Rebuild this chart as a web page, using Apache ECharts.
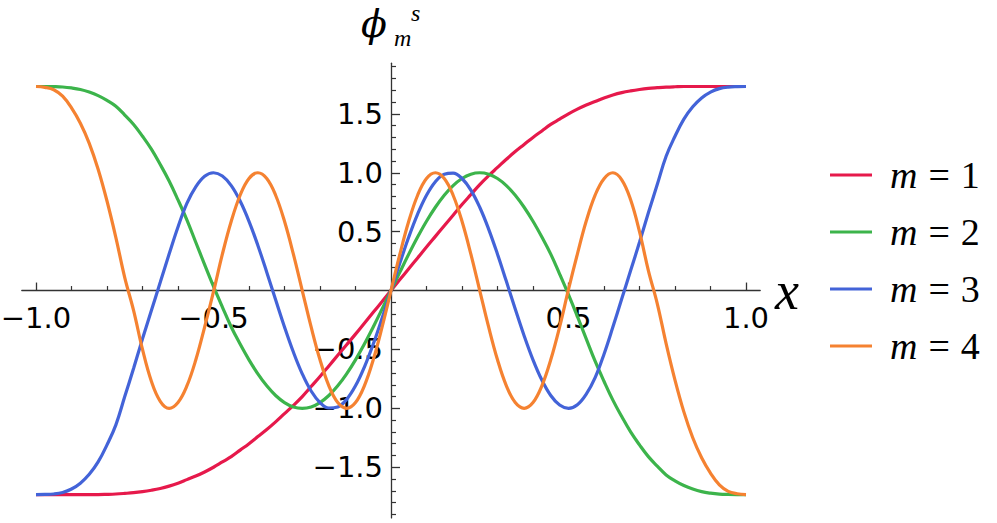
<!DOCTYPE html>
<html>
<head>
<meta charset="utf-8">
<script src="https://cdn.jsdelivr.net/npm/echarts@6/dist/echarts.min.js"></script>
<style>
html,body{margin:0;padding:0;background:#fff;}
#chart{width:997px;height:523px;}
</style>
</head>
<body>
<div id="chart"></div>
<script>
// x sample positions
const xs = [-1, -0.975, -0.95, -0.925, -0.9, -0.875, -0.85, -0.825, -0.8, -0.775,
  -0.75, -0.725, -0.7, -0.675, -0.65, -0.625, -0.6, -0.575, -0.55, -0.525,
  -0.5, -0.475, -0.45, -0.425, -0.4, -0.375, -0.35, -0.325, -0.3, -0.275,
  -0.25, -0.225, -0.2, -0.175, -0.15, -0.125, -0.1, -0.075, -0.05, -0.025,
  0, 0.025, 0.05, 0.075, 0.1, 0.125, 0.15, 0.175, 0.2, 0.225,
  0.25, 0.275, 0.3, 0.325, 0.35, 0.375, 0.4, 0.425, 0.45, 0.475,
  0.5, 0.525, 0.55, 0.575, 0.6, 0.625, 0.65, 0.675, 0.7, 0.725,
  0.75, 0.775, 0.8, 0.825, 0.85, 0.875, 0.9, 0.925, 0.95, 0.975, 1];

const m1 = [-1.732, -1.732, -1.732, -1.732, -1.732, -1.732, -1.732, -1.732, -1.730, -1.727,
  -1.722, -1.716, -1.707, -1.695, -1.68, -1.66, -1.635, -1.605, -1.575, -1.54,
  -1.50, -1.455, -1.41, -1.355, -1.30, -1.24, -1.18, -1.115, -1.045, -0.975,
  -0.90, -0.815, -0.73, -0.64, -0.55, -0.46, -0.37, -0.277, -0.185, -0.093,
  0, 0.093, 0.185, 0.277, 0.37, 0.46, 0.55, 0.64, 0.73, 0.815,
  0.90, 0.975, 1.045, 1.115, 1.18, 1.24, 1.30, 1.355, 1.41, 1.455,
  1.50, 1.54, 1.575, 1.605, 1.635, 1.66, 1.68, 1.695, 1.707, 1.716,
  1.722, 1.727, 1.730, 1.732, 1.732, 1.732, 1.732, 1.732, 1.732, 1.732, 1.732];

const m2 = [1.732, 1.732, 1.731, 1.728, 1.72, 1.707, 1.685, 1.655, 1.615, 1.565,
  1.49, 1.41, 1.31, 1.20, 1.07, 0.93, 0.77, 0.60, 0.41, 0.22,
  0.035, -0.14, -0.309, -0.454, -0.588, -0.707, -0.809, -0.891, -0.951, -0.988,
  -1.0, -0.988, -0.951, -0.891, -0.809, -0.707, -0.588, -0.454, -0.309, -0.156,
  0, 0.156, 0.309, 0.454, 0.588, 0.707, 0.809, 0.891, 0.951, 0.988,
  1.0, 0.988, 0.951, 0.891, 0.809, 0.707, 0.588, 0.454, 0.309, 0.14,
  -0.035, -0.22, -0.41, -0.60, -0.77, -0.93, -1.07, -1.20, -1.31, -1.41,
  -1.49, -1.565, -1.615, -1.655, -1.685, -1.707, -1.72, -1.728, -1.731, -1.732, -1.732];

const m3 = [-1.732, -1.731, -1.727, -1.714, -1.685, -1.635, -1.56, -1.455, -1.31, -1.14,
  -0.90, -0.66, -0.41, -0.17, 0.07, 0.31, 0.54, 0.74, 0.88, 0.97,
  1.0, 0.972, 0.891, 0.760, 0.588, 0.383, 0.156, -0.078, -0.309, -0.522,
  -0.707, -0.853, -0.951, -0.997, -0.988, -0.924, -0.809, -0.649, -0.454, -0.233,
  0, 0.233, 0.454, 0.649, 0.809, 0.924, 0.988, 0.997, 0.951, 0.853,
  0.707, 0.522, 0.309, 0.078, -0.156, -0.383, -0.588, -0.760, -0.891, -0.972,
  -1.0, -0.97, -0.88, -0.74, -0.54, -0.31, -0.07, 0.17, 0.41, 0.66,
  0.90, 1.14, 1.31, 1.455, 1.56, 1.635, 1.685, 1.714, 1.727, 1.731, 1.732];

const m4 = [1.732, 1.725, 1.705, 1.65, 1.55, 1.42, 1.25, 1.03, 0.76, 0.45,
  0.11, -0.17, -0.50, -0.77, -0.94, -1.0, -0.95, -0.81, -0.59, -0.31,
  -0.01, 0.309, 0.588, 0.809, 0.951, 1.0, 0.951, 0.809, 0.588, 0.309,
  0, -0.309, -0.588, -0.809, -0.951, -1.0, -0.951, -0.809, -0.588, -0.309,
  0, 0.309, 0.588, 0.809, 0.951, 1.0, 0.951, 0.809, 0.588, 0.309,
  0, -0.309, -0.588, -0.809, -0.951, -1.0, -0.951, -0.809, -0.588, -0.309,
  0.01, 0.31, 0.59, 0.81, 0.95, 1.0, 0.94, 0.77, 0.50, 0.17,
  -0.11, -0.45, -0.76, -1.03, -1.25, -1.42, -1.55, -1.65, -1.705, -1.725, -1.732];

const seriesNames = ['m = 1', 'm = 2', 'm = 3', 'm = 4'];
const seriesValues = [m1, m2, m3, m4];
const colors = ['#e6194B', '#3cb44b', '#4363d8', '#f58231'];

// ticks
const xMajor = [-1, -0.5, 0.5, 1];
const xMinor = [-0.9, -0.8, -0.7, -0.6, -0.4, -0.3, -0.2, -0.1, 0.1, 0.2, 0.3, 0.4, 0.6, 0.7, 0.8, 0.9];
const yMajor = [-1.5, -1, -0.5, 0.5, 1, 1.5];
const yMinor = [-1.9, -1.8, -1.7, -1.6, -1.4, -1.3, -1.2, -1.1, -0.9, -0.8, -0.7, -0.6, -0.4, -0.3, -0.2, -0.1,
  0.1, 0.2, 0.3, 0.4, 0.6, 0.7, 0.8, 0.9, 1.1, 1.2, 1.3, 1.4, 1.6, 1.7, 1.8, 1.9];

const xMin = -1.04, xMax = 1.04, yMin = -1.93, yMax = 1.93;
const gridLeft = 21.8, gridRight = 236.8, gridTop = 63.2, gridBottom = 5.1;
const W = 997, H = 523;
const gridW = W - gridLeft - gridRight, gridH = H - gridTop - gridBottom;
// shift the axes from the grid edges onto the origin
const xAxisOffset = -((0 - yMin) / (yMax - yMin)) * gridH;
const yAxisOffset = -((0 - xMin) / (xMax - xMin)) * gridW;

const axisColor = '#333';
const fmt = v => (v < 0 ? '\u2212' : '') + Math.abs(v).toFixed(1);
const labelFont = { fontFamily: 'DejaVu Sans', fontSize: 29, color: '#000' };
const serif = 'Liberation Serif';

const chart = echarts.init(document.getElementById('chart'), null, { renderer: 'svg' });

const option = {
  animation: false,
  backgroundColor: '#fff',
  grid: { left: gridLeft, right: gridRight, top: gridTop, bottom: gridBottom, containLabel: false, outerBoundsMode: 'none' },
  xAxis: [
    {
      type: 'value', min: xMin, max: xMax, position: 'bottom', offset: xAxisOffset,
      axisLine: { onZero: false, lineStyle: { color: axisColor, width: 1.3 } },
      axisTick: { show: true, inside: true, length: 8, customValues: xMajor, lineStyle: { color: axisColor, width: 1.3 } },
      axisLabel: Object.assign({ customValues: xMajor, formatter: fmt, margin: 13 }, labelFont),
      splitLine: { show: false },
      name: 'x', nameLocation: 'end', nameGap: 8,
      nameTextStyle: { fontFamily: serif, fontStyle: 'italic', fontSize: 54, color: '#000', padding: [0, 0, 38, 0] }
    },
    {
      type: 'value', min: xMin, max: xMax, position: 'bottom', offset: xAxisOffset,
      axisLine: { onZero: false, show: false },
      axisTick: { show: true, inside: true, length: 4.5, customValues: xMinor, lineStyle: { color: axisColor, width: 1.2 } },
      axisLabel: { show: false },
      splitLine: { show: false }
    }
  ],
  yAxis: [
    {
      type: 'value', min: yMin, max: yMax, position: 'left', offset: yAxisOffset,
      axisLine: { onZero: false, lineStyle: { color: axisColor, width: 1.3 } },
      axisTick: { show: true, inside: true, length: 9, customValues: yMajor, lineStyle: { color: axisColor, width: 1.3 } },
      axisLabel: Object.assign({ customValues: yMajor, formatter: fmt, margin: 8 }, labelFont),
      splitLine: { show: false }
    },
    {
      type: 'value', min: yMin, max: yMax, position: 'left', offset: yAxisOffset,
      axisLine: { onZero: false, show: false },
      axisTick: { show: true, inside: true, length: 5, customValues: yMinor, lineStyle: { color: axisColor, width: 1.2 } },
      axisLabel: { show: false },
      splitLine: { show: false }
    }
  ],
  legend: {
    orient: 'vertical', left: 825, top: 151,
    itemWidth: 42, itemHeight: 3, itemGap: 19, icon: 'rect',
    data: seriesNames,
    formatter: name => '{i|m}{e|=}{r|' + name.split('= ')[1] + '}',
    textStyle: {
      rich: {
        i: { fontFamily: serif, fontStyle: 'italic', fontSize: 38, lineHeight: 40, color: '#000', padding: [0, 0, 0, 13] },
        e: { fontFamily: serif, fontSize: 38, lineHeight: 40, color: '#000', padding: [0, 11, 0, 11] },
        r: { fontFamily: serif, fontSize: 38, lineHeight: 40, color: '#000' }
      }
    }
  },
  graphic: [
    { type: 'text', left: 361, top: 5, style: { text: '\u03D5', fontFamily: 'DejaVu Serif', fontStyle: 'italic', fontSize: 38, lineHeight: 30, width: 28, overflow: 'none', fill: '#000' } },
    { type: 'text', left: 411, top: 1, style: { text: 's', fontFamily: serif, fontStyle: 'italic', fontSize: 24, lineHeight: 16, fill: '#000' } },
    { type: 'text', left: 394, top: 26, style: { text: 'm', fontFamily: serif, fontStyle: 'italic', fontSize: 24, lineHeight: 16, fill: '#000' } }
  ],
  series: seriesNames.map((n, i) => ({
    name: n, type: 'line', xAxisIndex: 0, yAxisIndex: 0,
    data: xs.map((x, j) => [x, seriesValues[i][j]]),
    showSymbol: false, symbol: 'none', smooth: 0.4,
    lineStyle: { width: 3.2, color: colors[i] },
    itemStyle: { color: colors[i] },
    emphasis: { disabled: true }
  }))
};
chart.setOption(option);
</script>
</body>
</html>
